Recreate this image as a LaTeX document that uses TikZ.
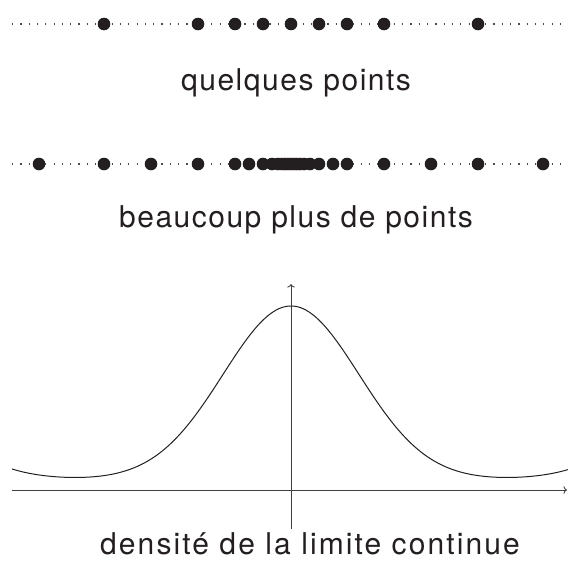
\documentclass[tikz,border=0pt]{standalone}
\usepackage{fontspec}
\newfontfamily\labelfont{TeX Gyre Heros}[LetterSpace=5]
\newfontfamily\labelfontlarge{TeX Gyre Heros}[LetterSpace=7]
\usepackage{tikz}
\usetikzlibrary{arrows.meta,calc}
\definecolor{ink}{HTML}{231F20}
\tikzset{
  dotline/.style={black!70,line width=1.2pt,dash pattern=on 1.2pt off 7.1pt},
  pt/.style={fill=ink},
  legende/.style={anchor=base,text=ink,font=\labelfont\fontsize{30}{34}\selectfont},
  axe/.style={->,black!75,line width=0.9pt},
}

\begin{document}
\begin{tikzpicture}[x=1pt,y=-1pt]
  \useasboundingbox (0,0) rectangle (568,560);
  % quelques points
  \draw[dotline] (12,24)--(564,24);
  \foreach \d in {0,28,-28,56,-56,93,-93,187,-187}
    \fill[pt] (291+\d,24) circle (6.3);
  \node[legende] (titreA) at (296,90) {quelques points};
  % beaucoup plus de points
  \draw[dotline] (12,164)--(564,164);
  \foreach \d in {0,3,-3,6,-6,9,-9,13,-13,19,-19,28,-28,42,-42,56,-56,
                  93,-93,140,-140,187,-187,252,-252}
    \fill[pt] (291+\d,164) circle (6.3);
  \node[legende] (titreB) at (296,227) {beaucoup plus de points};
  % densite
  \coordinate (xg) at (12,490);
  \coordinate (xd) at (567,490);
  \coordinate (yb) at (291,529);
  \coordinate (yh) at (291,284);
  \draw[axe] (xg)--(xd);
  \draw[axe] (yb)--(yh);
  \draw[ink,line width=1pt] plot[domain=-279:277,samples=220,smooth]
    ({291+\x},{490-(10+174*exp(-0.5*(\x/68)^2)+11*pow(\x/279,8))});
  \node[legende,font=\labelfontlarge\fontsize{30}{34}\selectfont] (titreC)
    at (310,554) {densité de la limite continue};
\end{tikzpicture}
\end{document}
